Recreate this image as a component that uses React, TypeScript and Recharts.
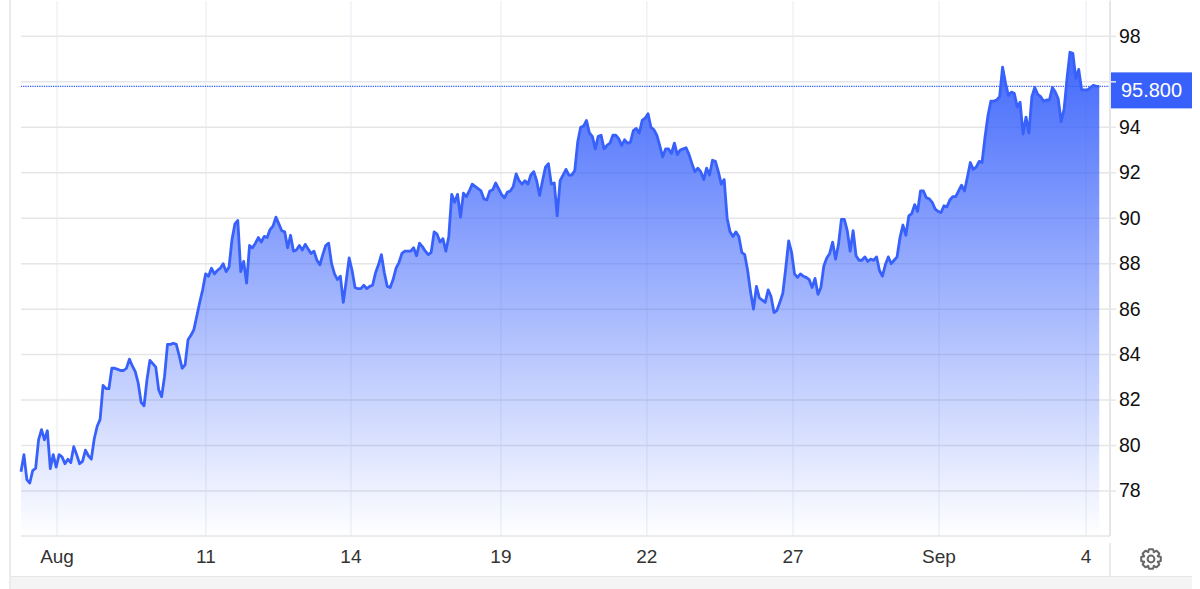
import { Area, AreaChart, CartesianGrid, ReferenceLine, XAxis, YAxis } from "recharts";

const prices = [
  78.85, 79.6, 78.5, 78.35, 78.9, 79.0, 80.25, 80.7, 80.25, 80.65,
  78.98, 79.6, 79.05, 79.6, 79.5, 79.2, 79.4, 79.25, 79.95, 79.6,
  79.2, 79.3, 79.8, 79.55, 79.4, 80.3, 80.85, 81.15, 82.65, 82.5,
  82.5, 83.4, 83.4, 83.35, 83.3, 83.3, 83.4, 83.8, 83.5, 83.25,
  82.75, 81.9, 81.75, 82.9, 83.75, 83.6, 83.45, 82.45, 82.15, 83.05,
  84.45, 84.45, 84.5, 84.45, 83.95, 83.4, 83.55, 84.65, 84.85, 85.1,
  85.7, 86.3, 86.85, 87.55, 87.45, 87.8, 87.55, 87.7, 87.8, 88.0,
  87.65, 87.85, 89.05, 89.75, 89.9, 87.65, 88.1, 87.15, 88.8, 88.7,
  88.9, 89.15, 88.95, 89.2, 89.15, 89.5, 89.65, 90.05, 89.75, 89.45,
  89.4, 88.7, 89.25, 88.55, 88.6, 88.8, 88.6, 88.85, 88.65, 88.45,
  88.55, 88.15, 87.95, 88.4, 88.8, 88.9, 88.0, 87.55, 87.3, 87.45,
  86.3, 87.25, 88.25, 87.7, 86.95, 86.9, 86.9, 87.05, 86.9, 87.0,
  87.05, 87.6, 87.95, 88.4, 87.6, 87.0, 86.95, 87.3, 87.8, 88.05,
  88.45, 88.55, 88.55, 88.55, 88.7, 88.35, 88.9, 88.75, 88.55, 88.4,
  88.5, 89.4, 89.3, 88.95, 89.1, 88.55, 89.2, 91.05, 90.7, 91.05,
  90.05, 91.1, 90.95, 91.2, 91.5, 91.4, 91.3, 91.2, 90.85, 90.8,
  91.2, 91.25, 91.55, 91.3, 91.05, 90.9, 91.15, 91.2, 91.4, 91.95,
  91.65, 91.5, 91.65, 91.5, 91.9, 92.05, 91.65, 91.0, 91.65, 92.25,
  92.4, 91.5, 91.55, 90.1, 91.65, 91.9, 92.15, 91.9, 91.9, 92.1,
  93.35, 94.0, 94.05, 94.3, 93.75, 93.6, 93.05, 93.6, 93.65, 93.05,
  93.2, 93.3, 93.65, 93.65, 93.5, 93.2, 93.45, 93.3, 93.35, 93.85,
  93.95, 93.75, 94.3, 94.4, 94.6, 94.0, 93.9, 93.65, 93.2, 92.7,
  93.05, 93.05, 92.85, 93.3, 92.8, 93.0, 93.05, 93.1, 92.8, 92.4,
  92.05, 92.2, 92.05, 91.7, 92.2, 91.9, 92.55, 92.5, 92.05, 91.5,
  91.7, 90.0, 89.4, 89.2, 89.4, 89.2, 88.5, 88.4, 87.7, 86.75,
  86.0, 87.0, 86.5, 86.4, 86.3, 86.85, 86.55, 85.85, 85.95, 86.3,
  86.7, 87.8, 89.0, 88.5, 87.55, 87.4, 87.55, 87.45, 87.4, 87.3,
  86.95, 87.35, 86.65, 86.95, 87.9, 88.25, 88.45, 88.95, 88.2, 88.85,
  89.95, 89.95, 89.45, 88.55, 89.45, 88.35, 88.15, 88.15, 88.3, 88.1,
  88.2, 88.15, 88.3, 87.7, 87.45, 87.95, 88.3, 88.0, 88.15, 88.3,
  89.15, 89.7, 89.25, 90.1, 90.2, 90.6, 90.3, 91.2, 91.2, 90.9,
  90.85, 90.7, 90.4, 90.3, 90.25, 90.55, 90.5, 90.8, 90.95, 90.95,
  91.2, 91.45, 91.2, 91.8, 92.45, 92.15, 92.25, 92.5, 92.45, 93.55,
  94.5, 95.15, 95.15, 95.2, 95.35, 96.65, 95.95, 95.4, 95.55, 95.5,
  94.9, 95.1, 93.7, 94.45, 93.75, 95.35, 95.75, 95.45, 95.35, 95.15,
  95.2, 95.2, 95.75, 95.55, 95.25, 94.25, 94.8, 96.15, 97.3, 97.25,
  96.15, 96.55, 95.65, 95.65, 95.65, 95.75, 95.85, 95.8, 95.8,
];

const tickPositions = [12.3, 63.1, 112.6, 163.8, 213.6, 263.5, 313.3, 363.5];
const tickLabels = ["Aug", "11", "14", "19", "22", "27", "Sep", "4"];
const priceTicks = [78, 80, 82, 84, 86, 88, 90, 92, 94, 96, 98];
const lastPrice = 95.8;

const BLUE = "#3861fb";
const GRID = "#e6e6e6";
const FONT = '"Liberation Sans", Arial, sans-serif';

const data = prices.map((price, idx) => ({ idx, price }));

function PriceTag({ viewBox }: any) {
  const x = viewBox.x + viewBox.width + 1;
  return (
    <g>
      <rect x={x} y={viewBox.y - 14} width={81} height={36} fill={BLUE} />
      <text
        x={x + 40.5}
        y={viewBox.y + 11}
        fill="#fff"
        fontSize={20}
        fontFamily={FONT}
        textAnchor="middle"
      >
        95.800
      </text>
    </g>
  );
}

function Gear() {
  // cog outline, 8 teeth
  const pts: string[] = [];
  for (let i = 0; i < 8; i++) {
    const a = (i * Math.PI) / 4;
    [
      [-0.42, 7.4],
      [-0.2, 10],
      [0.2, 10],
      [0.42, 7.4],
    ].forEach(([d, r]) => {
      pts.push(`${(11 + r * Math.sin(a + d)).toFixed(2)},${(11 - r * Math.cos(a + d)).toFixed(2)}`);
    });
  }
  return (
    <svg width={22} height={22} style={{ position: "absolute", left: 1140, top: 548 }}>
      <polygon points={pts.join(" ")} fill="none" stroke="#666" strokeWidth={2} strokeLinejoin="round" />
      <circle cx={11} cy={11} r={3.4} fill="none" stroke="#666" strokeWidth={2} />
    </svg>
  );
}

export default function App() {
  return (
    <div style={{ position: "absolute", left: 0, top: 0, width: 1200, height: 589, background: "#fff", overflow: "hidden" }}>
      <AreaChart
        width={1200}
        height={589}
        data={data}
        margin={{ top: 0, right: 0, bottom: 0, left: 21 }}
      >
        <defs>
          <linearGradient id="priceFill" x1="0" y1="0" x2="0" y2="1">
            <stop offset="0%" stopColor={BLUE} stopOpacity={0.95} />
            <stop offset="100%" stopColor={BLUE} stopOpacity={0} />
          </linearGradient>
        </defs>
        <CartesianGrid horizontal={false} stroke="#eef2f7" strokeWidth={1.5} syncWithTicks />
        <CartesianGrid vertical={false} stroke={GRID} strokeWidth={1.5} syncWithTicks />
        <XAxis
          dataKey="idx"
          type="number"
          domain={[0, 371.67]}
          ticks={tickPositions}
          interval={0}
          height={53}
          tickLine={false}
          axisLine={{ stroke: GRID, strokeWidth: 1.5 }}
          tick={{ fontSize: 19, fill: "#333", fontFamily: FONT }}
          tickMargin={8}
          tickFormatter={(v) => tickLabels[tickPositions.indexOf(v)]}
        />
        <YAxis
          orientation="right"
          type="number"
          domain={[76.02, 99.6]}
          ticks={priceTicks}
          interval={0}
          width={90}
          tickSize={6}
          tickLine={{ stroke: GRID, strokeWidth: 1.5 }}
          axisLine={{ stroke: GRID, strokeWidth: 2 }}
          tick={{ fontSize: 19.5, fill: "#111", fontFamily: FONT, dy: -0.5 }}
          tickMargin={3}
          tickFormatter={(v) => (v === 96 ? "" : String(v))}
        />
        <Area
          type="linear"
          dataKey="price"
          stroke={BLUE}
          strokeWidth={2.8}
          strokeLinejoin="round"
          fill="url(#priceFill)"
          fillOpacity={1}
          dot={false}
          activeDot={false}
          isAnimationActive={false}
        />
        <ReferenceLine
          y={lastPrice}
          stroke="#3861fb"
          strokeOpacity={1}
          strokeWidth={1.3}
          strokeDasharray="1.3 1"
          label={(props: any) => <PriceTag viewBox={props.viewBox} />}
        />
      </AreaChart>
      <div style={{ position: "absolute", left: 21, top: 0, width: 1089, height: 1, background: "#fff" }} />
      <div style={{ position: "absolute", left: 9, top: 0, width: 2, height: 589, background: "#ebebeb" }} />
      <div style={{ position: "absolute", left: 1109, top: 543, width: 2, height: 33, background: "#ebebeb" }} />
      <div
        style={{
          position: "absolute",
          left: 11,
          top: 576,
          width: 1181,
          height: 13,
          background: "#f4f4f4",
          borderTop: "1px solid #e6e6e6",
        }}
      />
      <Gear />
    </div>
  );
}
